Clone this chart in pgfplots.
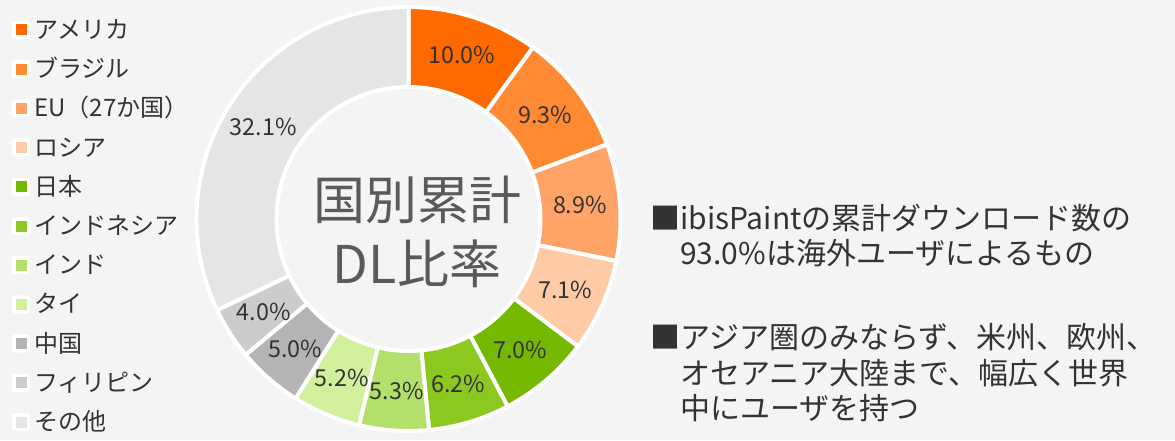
\documentclass[border=0pt]{standalone}
\usepackage{fontspec}
\setmainfont{Noto Sans CJK JP}
\usepackage{pgfplots}
\usepackage{pgfplotstable}
\pgfplotsset{compat=1.18}
\definecolor{bg}{HTML}{F4F4F4}
\definecolor{txt}{HTML}{333333}
\definecolor{ctr}{HTML}{5A5A5A}
\definecolor{c1}{HTML}{FF6A00}
\definecolor{c2}{HTML}{FF8A33}
\definecolor{c3}{HTML}{FFA466}
\definecolor{c4}{HTML}{FFCAA6}
\definecolor{c5}{HTML}{75B800}
\definecolor{c6}{HTML}{8CC820}
\definecolor{c7}{HTML}{B3E06A}
\definecolor{c8}{HTML}{D0F09C}
\definecolor{c9}{HTML}{B4B4B4}
\definecolor{c10}{HTML}{CCCCCC}
\definecolor{c11}{HTML}{E5E5E5}
\pgfplotstableread{
value col name
10.0 c1 アメリカ
9.3 c2 ブラジル
8.9 c3 EU（27か国）
7.1 c4 ロシア
7.0 c5 日本
6.2 c6 インドネシア
5.3 c7 インド
5.2 c8 タイ
5.0 c9 中国
4.0 c10 フィリピン
32.1 c11 その他
}\piedata
\begin{document}
\begin{tikzpicture}
\begin{axis}[x=0.75pt, y=0.75pt, xmin=0, xmax=1175, ymin=0, ymax=440,
  hide axis, clip=false]
\fill[bg] (axis cs:0,0) rectangle (axis cs:1175,440);
\def\acc{0}
\pgfplotsforeachungrouped \i in {0,...,10}{%
  \pgfplotstablegetelem{\i}{value}\of\piedata \let\v\pgfplotsretval
  \pgfplotstablegetelem{\i}{col}\of\piedata \let\col\pgfplotsretval
  \pgfplotstablegetelem{\i}{name}\of\piedata \let\nm\pgfplotsretval
  \pgfmathsetmacro\aS{90-3.596404*\acc}%
  \pgfmathsetmacro\aE{90-3.596404*(\acc+\v)}%
  \pgfmathsetmacro\aM{(\aS+\aE)/2}%
  \pgfmathsetmacro\lx{408.5+172*cos(\aM)}%
  \pgfmathsetmacro\lyy{221+172*sin(\aM)}%
  \pgfmathsetmacro\acc{\acc+\v}%
  \pgfmathsetmacro\ly{440-30-39.2*\i}%
  \pgfmathsetmacro\lb{440-30-39.2*\i-8.5}%
  \edef\temp{%
    \noexpand\fill[\col, draw=white, line width=3pt, line join=miter]
      (axis cs:408.5,221) ++(\aS:159pt) arc[start angle=\aS, end angle=\aE, radius=159pt]
      -- ++(\aE+180:60pt) arc[start angle=\aE, end angle=\aS, radius=99pt] -- cycle;
    \noexpand\node[text=txt, font=\noexpand\fontsize{17.5pt}{20pt}\noexpand\selectfont, inner sep=0pt]
      at (axis cs:\lx,\lyy) {\v\noexpand\%};
    \noexpand\fill[white, rounded corners=2pt] (axis cs:12,\ly-9) rectangle (axis cs:30,\ly+9);
    \noexpand\fill[\col] (axis cs:16,\ly-5.5) rectangle (axis cs:27,\ly+5.5);
    \noexpand\node[text=txt, anchor=base west, inner sep=0pt,
      font=\noexpand\fontsize{18pt}{20pt}\noexpand\selectfont]
      at (axis cs:34,\lb) {\nm};
  }\temp
}
\node[text=ctr, anchor=base, inner sep=0pt, font=\fontsize{39pt}{44pt}\selectfont] at (axis cs:417,220) {国別累計};
\node[text=ctr, anchor=base, inner sep=0pt, font=\fontsize{39pt}{44pt}\selectfont] at (axis cs:417,157) {DL比率};
\begin{scope}[every node/.style={text=txt, anchor=base west, inner sep=0pt, font=\fontsize{22.5pt}{26pt}\selectfont}]
\node at (axis cs:650,211) {■ibisPaintの累計ダウンロード数の};
\node at (axis cs:680,176) {93.0\%は海外ユーザによるもの};
\node at (axis cs:650,92) {■アジア圏のみならず、米州、欧州、};
\node at (axis cs:680,56) {オセアニア大陸まで、幅広く世界};
\node at (axis cs:680,21) {中にユーザを持つ};
\end{scope}
\end{axis}
\end{tikzpicture}
\end{document}
